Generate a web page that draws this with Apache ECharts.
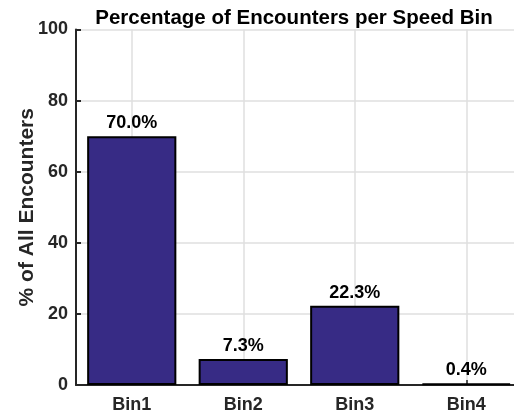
<!DOCTYPE html>
<html>
<head>
<meta charset="utf-8">
<script src="https://cdn.jsdelivr.net/npm/echarts@6/dist/echarts.min.js"></script>
<style>
html,body{margin:0;padding:0;background:#fff;overflow:hidden;}
/* plot box runs slightly past the right edge of the window, as in the original */
#chart{width:522px;height:417px;}
</style>
</head>
<body>
<div id="chart"></div>
<script>
// data
var categories = ["Bin1", "Bin2", "Bin3", "Bin4"];
var percents = [70.0, 7.3, 22.3, 0.4];
var yTicks = [0, 20, 40, 60, 80, 100];

var axisColor = "#262626";
var gridColor = "#dfdfdf";
var font = "Liberation Sans, Arial, sans-serif";

// plot box
var plotLeft = 76, plotTop = 29.5, plotBottom = 32, plotWidth = 446;
// second grid spans first..last bin centre so its ticks/grid lines sit on the bin centres
var halfBand = plotWidth / categories.length / 2;

var myChart = echarts.init(document.getElementById("chart"));
var option = {
    animation: false,
    title: {
        text: "Percentage of Encounters per Speed Bin",
        left: 289,
        textAlign: "center",
        top: 3,
        textStyle: { fontFamily: font, fontWeight: "bold", fontSize: 20.5, color: "#000" }
    },
    grid: [{
        left: plotLeft, top: plotTop, bottom: plotBottom, width: plotWidth,
        outerBoundsMode: "none"
    }, {
        left: plotLeft + halfBand, top: plotTop, bottom: plotBottom,
        width: plotWidth - 2 * halfBand,
        outerBoundsMode: "none"
    }],
    xAxis: [{
        type: "category",
        gridIndex: 0,
        data: categories,
        axisLine: { show: true, lineStyle: { color: axisColor, width: 2 } },
        axisTick: { show: false },
        splitLine: { show: false },
        axisLabel: { margin: 11, fontFamily: font, fontWeight: "bold", fontSize: 18, color: axisColor },
        z: 2
    }, {
        type: "value",
        gridIndex: 1,
        min: 1,
        max: categories.length,
        interval: 1,
        axisLine: { show: false },
        axisLabel: { show: false },
        axisTick: { show: true, inside: true, length: 5, lineStyle: { color: axisColor, width: 1.5 } },
        splitLine: { show: true, lineStyle: { color: gridColor, width: 1.5 } }
    }],
    yAxis: [{
        type: "value",
        gridIndex: 0,
        min: 0, max: 100, interval: 20,
        name: "% of All Encounters",
        nameLocation: "middle",
        nameGap: 38,
        nameMoveOverlap: false,
        nameTextStyle: { fontFamily: font, fontWeight: "bold", fontSize: 21, color: axisColor },
        axisLine: { show: true, lineStyle: { color: axisColor, width: 2 } },
        axisTick: { show: true, inside: true, length: 5, lineStyle: { color: axisColor, width: 2 } },
        splitLine: { show: true, lineStyle: { color: gridColor, width: 1.5 } },
        axisLabel: {
            margin: 8, fontFamily: font, fontWeight: "bold", fontSize: 18, color: axisColor,
            formatter: function (v) { return yTicks.indexOf(v) >= 0 ? v : ""; }
        },
        z: 2
    }, {
        type: "value", gridIndex: 1, min: 0, max: 100, show: false
    }],
    series: [{
        type: "bar",
        xAxisIndex: 0, yAxisIndex: 0,
        data: percents,
        barWidth: "80%",
        itemStyle: { color: "#372b85", borderColor: "#000", borderWidth: 2 },
        label: {
            show: true, position: "top", distance: 4,
            fontFamily: font, fontWeight: "bold", fontSize: 18, color: "#000",
            formatter: function (p) { return p.value.toFixed(1) + "%"; }
        },
        z: 3
    }]
};
myChart.setOption(option);
</script>
</body>
</html>
